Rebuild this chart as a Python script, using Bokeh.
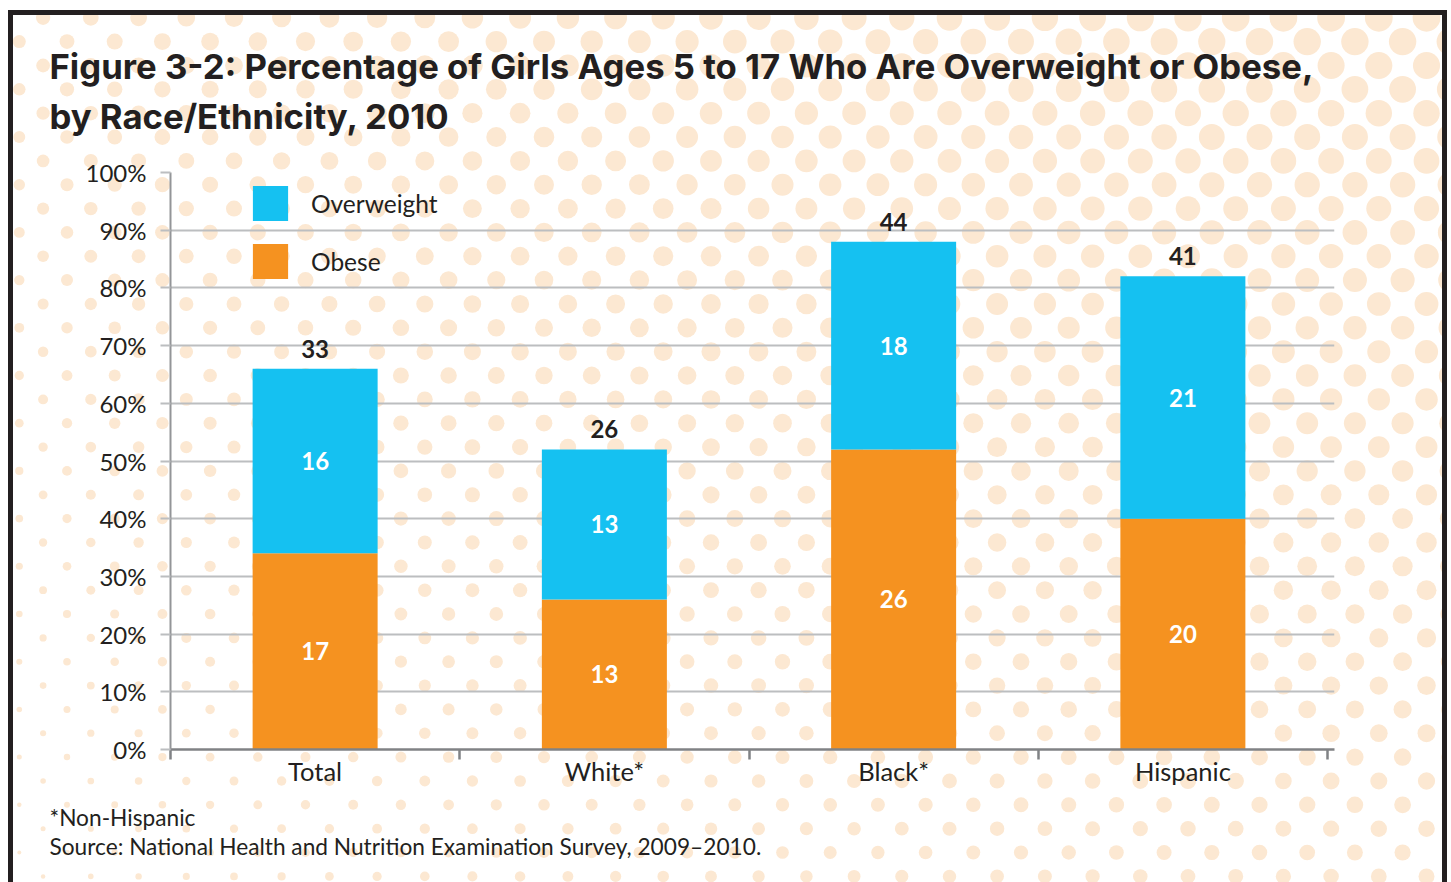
import base64
import numpy as np
from bokeh.plotting import figure
from bokeh.models import (ColumnDataSource, Range1d, FixedTicker, CustomJSTickFormatter,
                          Legend, LegendItem, LabelSet, Title)
from bokeh.core.properties import value
from bokeh.embed import file_html
from bokeh.resources import INLINE

# ---------------- data ----------------
categories = ["Total", "White*", "Black*", "Hispanic"]
obese = [17, 13, 26, 20]
overweight = [16, 13, 18, 21]
y_ticks = [0, 5, 10, 15, 20, 25, 30, 35, 40, 45, 50]
y_tick_labels = ["0%", "10%", "20%", "30%", "40%", "50%", "60%", "70%", "80%", "90%", "100%"]
series_names = ["Overweight", "Obese"]
title_lines = ["Figure 3-2: Percentage of Girls Ages 5 to 17 Who Are Overweight or Obese,",
               "by Race/Ethnicity, 2010"]
footnotes = ["*Non-Hispanic",
             "Source: National Health and Nutrition Examination Survey, 2009\u20132010."]

# ---------------- style ----------------
BLUE = "#15c1f1"
ORANGE = "#f59220"
INK = "#231f20"
GRID = "#bcbec0"
AXIS = "#808285"
FONT_NAME = "Lato"
FONT = value(FONT_NAME)
TITLE_FONT = "Inter"

W, H = 1451, 882
FL, FR, FT, FB = 170, 1334, 172, 749   # plot frame edges in canvas px
CAT_PX = 289.25
X_END = (FR - FL) / CAT_PX
Y_END = 50
TEXT_X = 49


# ---------------- decorative halftone background (CSS) ----------------
def dot_radius(px, py):
    u = min(max(px / 1451.0, 0), 1) ** 0.5
    v = min(max(py / 882.0, 0), 1)
    top = min(5.7 + 9.0 * u, 14.0)
    bot = 1.0 + 7.0 * u
    return max(top * (1 - v) + bot * v, 0.8)


circles = []
for n in range(-1, 39):
    py = 17.75 + n * 23.85
    x0 = 19.3 if n % 2 else 43.15
    for m in range(-1, 32):
        px = x0 + m * 47.7
        r = dot_radius(px, py)
        circles.append(f'<circle cx="{px:.1f}" cy="{py:.1f}" r="{r:.2f}"/>')
svg = (f'<svg xmlns="http://www.w3.org/2000/svg" width="{W}" height="{H}" viewBox="0 0 {W} {H}">'
       f'<rect width="{W}" height="{H}" fill="#ffffff"/>'
       f'<clipPath id="c"><rect x="13" y="15" width="1429" height="900"/></clipPath>'
       f'<g clip-path="url(#c)" fill="#fce8d2">' + "".join(circles) + '</g>'
       f'<rect x="10.5" y="12.5" width="1434" height="1000" fill="none" stroke="{INK}" stroke-width="5"/>'
       '</svg>')
bg = base64.b64encode(svg.encode()).decode()

# ---------------- figure ----------------
p = figure(width=W, height=H, x_range=Range1d(0, X_END), y_range=Range1d(0, Y_END),
           output_backend="svg", toolbar_location=None,
           min_border_left=FL, min_border_right=W - FR,
           min_border_top=FT, min_border_bottom=H - FB,
           background_fill_color=None, border_fill_color=None, outline_line_color=None,
           styles={"background-image": f"url(data:image/svg+xml;base64,{bg})",
                   "background-repeat": "no-repeat",
                   "background-size": f"{W}px {H}px"})

xs = [i + 0.5 for i in range(len(categories))]
totals = [a + b for a, b in zip(obese, overweight)]
src = ColumnDataSource(dict(
    x=xs, obese=obese, overweight=overweight, total=totals,
    ob_mid=[o / 2 for o in obese],
    ow_mid=[o + w / 2 for o, w in zip(obese, overweight)],
    ob_lbl=[str(v) for v in obese], ow_lbl=[str(v) for v in overweight],
    tot_lbl=[str(v) for v in totals]))

BW = 125 / CAT_PX
r_ob = p.vbar(x="x", bottom=0, top="obese", width=BW, source=src,
              fill_color=ORANGE, line_color=None)
r_ow = p.vbar(x="x", bottom="obese", top="total", width=BW, source=src,
              fill_color=BLUE, line_color=None)

lbl_kw = dict(text_font=FONT, text_font_style="bold", text_font_size="24px",
              text_align="center")
p.text(x="x", y="ob_mid", text="ob_lbl", source=src, text_color="white",
       text_baseline="middle", **lbl_kw)
p.text(x="x", y="ow_mid", text="ow_lbl", source=src, text_color="white",
       text_baseline="middle", **lbl_kw)
p.add_layout(LabelSet(x="x", y="total", text="tot_lbl", source=src, y_offset=11,
                      text_baseline="alphabetic", text_color=INK, **lbl_kw))

# grid
p.xgrid.grid_line_color = None
p.ygrid.ticker = FixedTicker(ticks=y_ticks)
p.ygrid.grid_line_color = GRID
p.ygrid.grid_line_width = 2

# y axis
ya = p.yaxis[0]
ya.ticker = FixedTicker(ticks=y_ticks)
ya.major_label_overrides = dict(zip(y_ticks, y_tick_labels))
ya.axis_line_color = "#939598"
ya.axis_line_width = 2
ya.major_tick_line_color = GRID
ya.major_tick_line_width = 2
ya.major_tick_out = 10
ya.major_tick_in = 0
ya.minor_tick_line_color = None
ya.major_label_text_font = FONT_NAME
ya.major_label_text_font_size = "24px"
ya.major_label_text_color = INK
ya.major_label_standoff = 14

# x axis
xa = p.xaxis[0]
xa.ticker = FixedTicker(ticks=xs, minor_ticks=list(range(len(categories) + 1)))
xa.formatter = CustomJSTickFormatter(args=dict(labels=categories), code="""
    const i = Math.floor(tick);
    return (i >= 0 && i < labels.length) ? labels[i] : '';
""")
xa.axis_line_color = AXIS
xa.axis_line_width = 2.5
xa.major_tick_line_color = None
xa.major_tick_out = 10
xa.major_tick_in = 0
xa.minor_tick_line_color = AXIS
xa.minor_tick_line_width = 2.5
xa.minor_tick_out = 10
xa.minor_tick_in = 0
xa.major_label_text_font = FONT_NAME
xa.major_label_text_font_size = "25.5px"
xa.major_label_text_color = INK
xa.major_label_standoff = -4

# legend
legend = Legend(items=[LegendItem(label=series_names[0], renderers=[r_ow]),
                       LegendItem(label=series_names[1], renderers=[r_ob])],
                location=(78, 466), orientation="vertical",
                glyph_width=44, glyph_height=44, spacing=14, label_standoff=19,
                padding=0, margin=0, label_text_font=FONT_NAME, label_text_font_size="24.5px",
                label_text_color=INK, background_fill_alpha=0, border_line_color=None)
p.add_layout(legend)

# title and footnotes
p.add_layout(Title(text="\n".join(title_lines), align="left", offset=TEXT_X - FL,
                   text_font=TITLE_FONT, text_font_style="bold", text_font_size="34.7px",
                   text_color=INK, text_line_height=1.2, standoff=71), "above")
p.add_layout(Title(text="\n".join(footnotes), align="left", offset=TEXT_X - FL,
                   text_font=FONT_NAME, text_font_style="normal", text_font_size="22.7px",
                   text_color=INK, text_line_height=1.06, standoff=27), "below")

open("out.html", "w").write(file_html(p, INLINE))
